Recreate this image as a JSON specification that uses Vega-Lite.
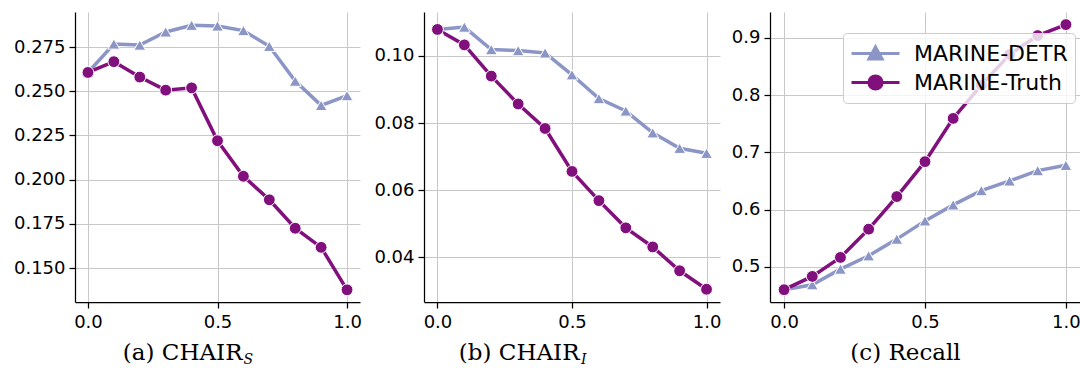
{
  "$schema": "https://vega.github.io/schema/vega-lite/v6.json",
  "padding": {"left": 0, "top": 12, "right": 0, "bottom": 0},
  "spacing": 5,
  "background": "white",
  "datasets": {
    "chair_s": [
      {"a": 0.0, "method": "MARINE-DETR", "v": 0.2606},
      {"a": 0.1, "method": "MARINE-DETR", "v": 0.2767},
      {"a": 0.2, "method": "MARINE-DETR", "v": 0.2761},
      {"a": 0.3, "method": "MARINE-DETR", "v": 0.2835},
      {"a": 0.4, "method": "MARINE-DETR", "v": 0.2873},
      {"a": 0.5, "method": "MARINE-DETR", "v": 0.2869},
      {"a": 0.6, "method": "MARINE-DETR", "v": 0.2843},
      {"a": 0.7, "method": "MARINE-DETR", "v": 0.2754},
      {"a": 0.8, "method": "MARINE-DETR", "v": 0.2557},
      {"a": 0.9, "method": "MARINE-DETR", "v": 0.2420},
      {"a": 1.0, "method": "MARINE-DETR", "v": 0.2475},
      {"a": 0.0, "method": "MARINE-Truth", "v": 0.2606},
      {"a": 0.1, "method": "MARINE-Truth", "v": 0.2667},
      {"a": 0.2, "method": "MARINE-Truth", "v": 0.2580},
      {"a": 0.3, "method": "MARINE-Truth", "v": 0.2506},
      {"a": 0.4, "method": "MARINE-Truth", "v": 0.2519},
      {"a": 0.5, "method": "MARINE-Truth", "v": 0.2220},
      {"a": 0.6, "method": "MARINE-Truth", "v": 0.2019},
      {"a": 0.7, "method": "MARINE-Truth", "v": 0.1886},
      {"a": 0.8, "method": "MARINE-Truth", "v": 0.1725},
      {"a": 0.9, "method": "MARINE-Truth", "v": 0.1617},
      {"a": 1.0, "method": "MARINE-Truth", "v": 0.1377}
    ],
    "chair_i": [
      {"a": 0.0, "method": "MARINE-DETR", "v": 0.1079},
      {"a": 0.1, "method": "MARINE-DETR", "v": 0.1086},
      {"a": 0.2, "method": "MARINE-DETR", "v": 0.1019},
      {"a": 0.3, "method": "MARINE-DETR", "v": 0.1016},
      {"a": 0.4, "method": "MARINE-DETR", "v": 0.1009},
      {"a": 0.5, "method": "MARINE-DETR", "v": 0.0944},
      {"a": 0.6, "method": "MARINE-DETR", "v": 0.0873},
      {"a": 0.7, "method": "MARINE-DETR", "v": 0.0836},
      {"a": 0.8, "method": "MARINE-DETR", "v": 0.0771},
      {"a": 0.9, "method": "MARINE-DETR", "v": 0.0725},
      {"a": 1.0, "method": "MARINE-DETR", "v": 0.0710},
      {"a": 0.0, "method": "MARINE-Truth", "v": 0.1079},
      {"a": 0.1, "method": "MARINE-Truth", "v": 0.1033},
      {"a": 0.2, "method": "MARINE-Truth", "v": 0.0940},
      {"a": 0.3, "method": "MARINE-Truth", "v": 0.0857},
      {"a": 0.4, "method": "MARINE-Truth", "v": 0.0784},
      {"a": 0.5, "method": "MARINE-Truth", "v": 0.0656},
      {"a": 0.6, "method": "MARINE-Truth", "v": 0.0569},
      {"a": 0.7, "method": "MARINE-Truth", "v": 0.0488},
      {"a": 0.8, "method": "MARINE-Truth", "v": 0.0431},
      {"a": 0.9, "method": "MARINE-Truth", "v": 0.0360},
      {"a": 1.0, "method": "MARINE-Truth", "v": 0.0305}
    ],
    "recall": [
      {"a": 0.0, "method": "MARINE-DETR", "v": 0.4599},
      {"a": 0.1, "method": "MARINE-DETR", "v": 0.4686},
      {"a": 0.2, "method": "MARINE-DETR", "v": 0.4959},
      {"a": 0.3, "method": "MARINE-DETR", "v": 0.5192},
      {"a": 0.4, "method": "MARINE-DETR", "v": 0.5483},
      {"a": 0.5, "method": "MARINE-DETR", "v": 0.5802},
      {"a": 0.6, "method": "MARINE-DETR", "v": 0.6081},
      {"a": 0.7, "method": "MARINE-DETR", "v": 0.6331},
      {"a": 0.8, "method": "MARINE-DETR", "v": 0.6500},
      {"a": 0.9, "method": "MARINE-DETR", "v": 0.6680},
      {"a": 1.0, "method": "MARINE-DETR", "v": 0.6773},
      {"a": 0.0, "method": "MARINE-Truth", "v": 0.4599},
      {"a": 0.1, "method": "MARINE-Truth", "v": 0.4831},
      {"a": 0.2, "method": "MARINE-Truth", "v": 0.5163},
      {"a": 0.3, "method": "MARINE-Truth", "v": 0.5657},
      {"a": 0.4, "method": "MARINE-Truth", "v": 0.6227},
      {"a": 0.5, "method": "MARINE-Truth", "v": 0.6837},
      {"a": 0.6, "method": "MARINE-Truth", "v": 0.7593},
      {"a": 0.7, "method": "MARINE-Truth", "v": 0.8174},
      {"a": 0.8, "method": "MARINE-Truth", "v": 0.8709},
      {"a": 0.9, "method": "MARINE-Truth", "v": 0.9041},
      {"a": 1.0, "method": "MARINE-Truth", "v": 0.9233}
    ]
  },
  "hconcat": [
    {
      "width": 285,
      "height": 290,
      "data": {"name": "chair_s"},
      "layer": [
        {
          "mark": {"type": "line", "strokeWidth": 3.5},
          "encoding": {
            "x": {"field": "a", "type": "quantitative", "scale": {"domain": [-0.05, 1.05], "nice": false, "zero": false},
                  "axis": {"values": [0, 0.5, 1], "format": ".1f", "title": "(a) CHAIR", "titleX": 167, "titleY": 57, "titleAlign": "right", "titleBaseline": "alphabetic"}},
            "y": {"field": "v", "type": "quantitative", "scale": {"domain": [0.1308, 0.2948], "nice": false, "zero": false},
                  "axis": {"values": [0.15, 0.175, 0.2, 0.225, 0.25, 0.275], "format": ".3f", "title": null, "minExtent": 75, "maxExtent": 75}},
            "color": {"field": "method", "type": "nominal", "scale": {"domain": ["MARINE-DETR", "MARINE-Truth"], "range": ["#8c96c6", "#810f7c"]}, "legend": null}
          }
        },
        {
          "mark": {"type": "point", "filled": true, "size": 140, "stroke": "white", "strokeWidth": 1, "opacity": 1},
          "encoding": {
            "x": {"field": "a", "type": "quantitative"},
            "y": {"field": "v", "type": "quantitative"},
            "color": {"field": "method", "type": "nominal", "legend": null},
            "shape": {"field": "method", "type": "nominal", "scale": {"domain": ["MARINE-DETR", "MARINE-Truth"], "range": ["triangle-up", "circle"]}, "legend": null}
          }
        },
        {
          "data": {"values": [{}]},
          "mark": {"type": "text", "text": "S", "font": "DejaVu Serif", "fontStyle": "italic", "fontSize": 14, "align": "left", "baseline": "alphabetic", "dy": 62, "color": "black"},
          "encoding": {"x": {"datum": 0.6}, "y": {"datum": 0.1308}}
        }
      ]
    },
    {
      "width": 296,
      "height": 290,
      "data": {"name": "chair_i"},
      "layer": [
        {
          "mark": {"type": "line", "strokeWidth": 3.5},
          "encoding": {
            "x": {"field": "a", "type": "quantitative", "scale": {"domain": [-0.05, 1.05], "nice": false, "zero": false},
                  "axis": {"values": [0, 0.5, 1], "format": ".1f", "title": "(b) CHAIR", "titleX": 155, "titleY": 57, "titleAlign": "right", "titleBaseline": "alphabetic"}},
            "y": {"field": "v", "type": "quantitative", "scale": {"domain": [0.0267, 0.1131], "nice": false, "zero": false},
                  "axis": {"values": [0.04, 0.06, 0.08, 0.1], "format": ".2f", "title": null, "minExtent": 57, "maxExtent": 57}},
            "color": {"field": "method", "type": "nominal", "scale": {"domain": ["MARINE-DETR", "MARINE-Truth"], "range": ["#8c96c6", "#810f7c"]}, "legend": null}
          }
        },
        {
          "mark": {"type": "point", "filled": true, "size": 140, "stroke": "white", "strokeWidth": 1, "opacity": 1},
          "encoding": {
            "x": {"field": "a", "type": "quantitative"},
            "y": {"field": "v", "type": "quantitative"},
            "color": {"field": "method", "type": "nominal", "legend": null},
            "shape": {"field": "method", "type": "nominal", "scale": {"domain": ["MARINE-DETR", "MARINE-Truth"], "range": ["triangle-up", "circle"]}, "legend": null}
          }
        },
        {
          "data": {"values": [{}]},
          "mark": {"type": "text", "text": "I", "font": "DejaVu Serif", "fontStyle": "italic", "fontSize": 14, "align": "left", "baseline": "alphabetic", "dy": 62, "color": "black"},
          "encoding": {"x": {"datum": 0.533}, "y": {"datum": 0.0267}}
        }
      ]
    },
    {
      "width": 310,
      "height": 290,
      "data": {"name": "recall"},
      "encoding": {
        "x": {"field": "a", "type": "quantitative", "scale": {"domain": [-0.05, 1.05], "nice": false, "zero": false},
              "axis": {"values": [0, 0.5, 1], "format": ".1f", "title": "(c) Recall", "titleX": 135, "titleY": 57, "titleAlign": "center", "titleBaseline": "alphabetic"}},
        "y": {"field": "v", "type": "quantitative", "scale": {"domain": [0.4384, 0.9453], "nice": false, "zero": false},
              "axis": {"values": [0.5, 0.6, 0.7, 0.8, 0.9], "format": ".1f", "title": null, "minExtent": 44, "maxExtent": 44}},
        "color": {"field": "method", "type": "nominal", "scale": {"domain": ["MARINE-DETR", "MARINE-Truth"], "range": ["#8c96c6", "#810f7c"]},
          "legend": {
            "orient": "none", "legendX": 73, "legendY": 21, "title": null,
            "labelFont": "DejaVu Sans", "labelFontSize": 22, "labelColor": "black",
            "strokeColor": "#cccccc", "fillColor": "rgba(255,255,255,0.8)", "cornerRadius": 4, "padding": 7,
            "symbolSize": 576, "symbolOffset": 12, "labelOffset": 25, "rowPadding": 4, "symbolStrokeWidth": 3, "symbolOpacity": 1,
            "encode": {"symbols": {"update": {
              "shape": {"signal": "datum.value === 'MARINE-DETR' ? 'M-2,0L2,0M0,-0.55L0.55,0.45L-0.55,0.45Z' : 'M-2,0L2,0M0.55,0A0.55,0.55,0,1,1,-0.55,0A0.55,0.55,0,1,1,0.55,0Z'"},
              "strokeWidth": {"value": 3}
            }}}
          }}
      },
      "layer": [
        {
          "mark": {"type": "line", "strokeWidth": 3.5}
        },
        {
          "transform": [{"filter": {"field": "method", "equal": "MARINE-DETR"}}],
          "mark": {"type": "point", "shape": "triangle-up", "filled": true, "size": 140, "stroke": "white", "strokeWidth": 1, "opacity": 1}
        },
        {
          "transform": [{"filter": {"field": "method", "equal": "MARINE-Truth"}}],
          "mark": {"type": "point", "shape": "circle", "filled": true, "size": 140, "stroke": "white", "strokeWidth": 1, "opacity": 1}
        }
      ]
    }
  ],
  "resolve": {
    "scale": {"color": "independent", "shape": "independent"},
    "legend": {"color": "independent", "shape": "independent"}
  },
  "config": {
    "view": {"stroke": null},
    "font": "DejaVu Sans",
    "axis": {
      "labelFont": "DejaVu Sans", "labelFontSize": 18, "labelColor": "black",
      "domainColor": "black", "domainWidth": 1.25,
      "tickColor": "black", "tickWidth": 1.25, "tickSize": 6,
      "gridColor": "#c8c8c8", "gridWidth": 1,
      "titleFont": "DejaVu Serif", "titleFontSize": 23, "titleFontWeight": "normal", "titleColor": "black",
      "labelFlush": false
    },
    "axisX": {"labelPadding": 5},
    "axisY": {"labelPadding": 4}
  }
}
